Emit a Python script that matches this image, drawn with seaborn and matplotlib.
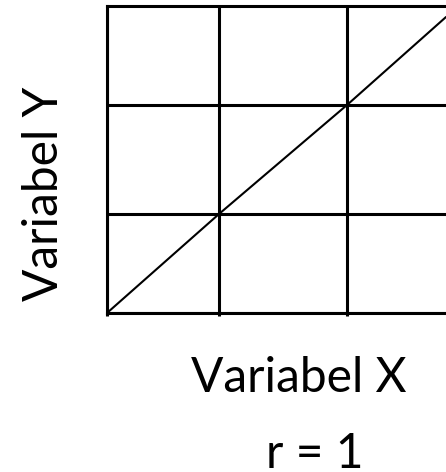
import matplotlib
matplotlib.use("Agg")
import matplotlib.pyplot as plt
import seaborn as sns
import pandas as pd

# Data
x_grid = [0, 112, 240]
y_grid = [0, 99, 208]
line_x = [0, 112, 240, 339]
line_y = [0, 99, 208, 296]
x_label = "Variabel X"
y_label = "Variabel Y"
r_label = "r = 1"

sns.set_theme(style="white")
plt.rcParams['font.family'] = ['Lato', 'DejaVu Sans']

W, H = 446, 472
fig = plt.figure(figsize=(W / 100, H / 100), dpi=100)
ax = fig.add_axes([107 / W, 1 - 313 / H, 339 / W, 307 / H])

df = pd.DataFrame({"x": line_x, "y": line_y})
sns.lineplot(data=df, x="x", y="y", ax=ax, color="black", linewidth=1.5)

ax.set_xlim(0, 339)
ax.set_ylim(0, 307)
ax.set_xticks(x_grid)
ax.set_yticks(y_grid)
ax.set_xticklabels([])
ax.set_yticklabels([])
ax.set_xlabel("")
ax.set_ylabel("")
ax.grid(True, color="black", linewidth=2.2)
ax.set_axisbelow(True)
ax.tick_params(axis="x", bottom=True, length=2.5, width=2.2, color="black")
ax.tick_params(axis="y", left=False)
for s in ["left", "bottom", "top"]:
    ax.spines[s].set_visible(True)
    ax.spines[s].set_color("black")
    ax.spines[s].set_linewidth(2.2)
ax.spines["right"].set_visible(False)

fig.text(298.5 / W, 1 - 392.5 / H, x_label, ha="center", va="baseline", fontsize=34.5, color="black")
fig.text(314.5 / W, 1 - 468 / H, r_label, ha="center", va="baseline", fontsize=34.5, color="black")
fig.text(44 / W, 1 - 194 / H, y_label, ha="center", va="center", rotation=90, fontsize=34.5, color="black")

fig.savefig("out.png", dpi=100)
